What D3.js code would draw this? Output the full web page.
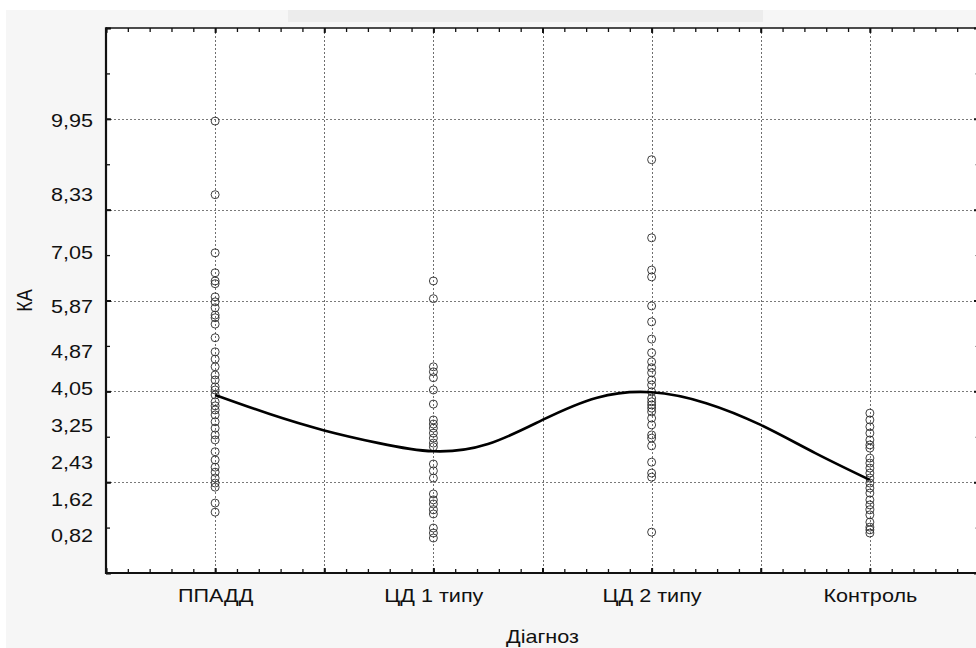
<!DOCTYPE html>
<html>
<head>
<meta charset="utf-8">
<script src="https://cdn.jsdelivr.net/npm/d3@7"></script>
<style>
  body { margin: 0; background: #fff; }
  text { font-family: "Liberation Sans", Arial, sans-serif; fill: #111; }
</style>
</head>
<body>
<script>
var w = 976;
var h = 648;
var plotLeft = 106, plotTop = 28, plotRight = 979, plotBottom = 573;
var stretch = 1.2; // the original picture is widened a bit

var categories = ["ППАДД", "ЦД 1 типу", "ЦД 2 типу", "Контроль"];

var ppadd = [9.95, 8.33, 7.05, 6.61, 6.43, 6.37, 6.08, 5.97, 5.84, 5.68, 5.62, 5.48, 5.18, 4.87, 4.71,
    4.54, 4.36, 4.25, 4.10, 4.03, 3.92, 3.77, 3.68, 3.59, 3.48, 3.33, 3.19, 3.04, 2.93, 2.67, 2.49,
    2.33, 2.22, 2.09, 1.98, 1.89, 1.54, 1.34];
var cd1 = [6.43, 6.04, 4.54, 4.43, 4.30, 4.03, 3.72, 3.37, 3.28, 3.19, 3.08, 2.97, 2.86, 2.78, 2.40,
    2.25, 2.09, 1.74, 1.61, 1.52, 1.39, 1.30, 0.99, 0.88, 0.77];
var cd2 = [9.10, 7.38, 6.67, 6.52, 5.88, 5.53, 5.15, 4.85, 4.65, 4.52, 4.41, 4.25, 4.14, 3.99, 3.85,
    3.77, 3.70, 3.63, 3.55, 3.41, 3.26, 3.04, 2.97, 2.80, 2.44, 2.20, 2.11, 0.90];
var control = [3.52, 3.37, 3.22, 3.08, 2.93, 2.82, 2.75, 2.53, 2.42, 2.31, 2.20, 2.09, 1.98, 1.87,
    1.76, 1.61, 1.50, 1.39, 1.28, 1.12, 1.01, 0.95, 0.88];

// smooth fit line
var fitX = [1, 1.25, 1.5, 1.75, 2, 2.25, 2.5, 2.75, 3, 3.25, 3.5, 3.75, 4];
var fitY = [3.92, 3.50, 3.14, 2.86, 2.68, 2.84, 3.37, 3.86, 3.98, 3.74, 3.26, 2.64, 2.05];

var yLabels = [9.95, 8.33, 7.05, 5.87, 4.87, 4.05, 3.25, 2.43, 1.62, 0.82];

var groups = [ppadd, cd1, cd2, control];
var points = [];
groups.forEach(function (g, i) {
    g.forEach(function (v) { points.push({ x: i + 1, y: v }); });
});

var svg = d3.select("body")
    .append("svg")
    .attr("width", w)
    .attr("height", h);

svg.append("rect").attr("width", w).attr("height", h).attr("fill", "#fff");
svg.append("rect").attr("x", 6).attr("y", 10).attr("width", w - 6).attr("height", h - 10).attr("fill", "#f6f6f6");
svg.append("rect").attr("x", 288).attr("y", 10).attr("width", 475).attr("height", 12).attr("fill", "#ececec");
svg.append("rect").attr("x", plotLeft).attr("y", plotTop)
    .attr("width", plotRight - plotLeft).attr("height", plotBottom - plotTop).attr("fill", "#fff");

var xScale = d3.scaleLinear().domain([0.5, 4.5]).range([plotLeft, plotRight]);
var yScale = d3.scaleLinear().domain([0, 12]).range([plotBottom, plotTop]);

var minorX = d3.range(5, 46).map(function (d) { return d / 10; });
var majorX = d3.range(1, 10).map(function (d) { return d / 2; });
var minorY = d3.range(0, 13);
var majorY = d3.range(0, 13, 2);

// grid
svg.append("g")
    .selectAll("line")
    .data(d3.range(2, 9).map(function (d) { return d / 2; }))
    .enter()
    .append("line")
    .attr("x1", function (d) { return Math.round(xScale(d)) + 0.5; })
    .attr("x2", function (d) { return Math.round(xScale(d)) + 0.5; })
    .attr("y1", plotTop)
    .attr("y2", plotBottom)
    .attr("stroke", "#6e6e6e")
    .attr("stroke-dasharray", "2,2");

svg.append("g")
    .selectAll("line")
    .data([2, 4, 6, 8, 10])
    .enter()
    .append("line")
    .attr("x1", plotLeft)
    .attr("x2", plotRight)
    .attr("y1", function (d) { return Math.round(yScale(d)) + 0.5; })
    .attr("y2", function (d) { return Math.round(yScale(d)) + 0.5; })
    .attr("stroke", "#7a7a7a")
    .attr("stroke-dasharray", "2,2");

function tickAxis(axis, values, size, width) {
    var g = svg.append("g").call(axis.tickValues(values).tickSize(size).tickFormat(""));
    g.select(".domain").remove();
    g.selectAll("line").attr("stroke", "#111").attr("stroke-width", width);
    return g;
}

// inward ticks on all four sides
tickAxis(d3.axisBottom(xScale), minorX, -4, 1.3).attr("transform", "translate(0," + plotBottom + ")");
tickAxis(d3.axisBottom(xScale), majorX, -5, 2).attr("transform", "translate(0," + plotBottom + ")");
tickAxis(d3.axisTop(xScale), minorX, -4, 1.3).attr("transform", "translate(0," + plotTop + ")");
tickAxis(d3.axisTop(xScale), majorX, -5, 2).attr("transform", "translate(0," + plotTop + ")");
tickAxis(d3.axisLeft(yScale), minorY, -4, 1.3).attr("transform", "translate(" + plotLeft + ",0)");
tickAxis(d3.axisLeft(yScale), majorY, -5, 2).attr("transform", "translate(" + plotLeft + ",0)");
tickAxis(d3.axisRight(yScale), minorY, -4, 1).attr("transform", "translate(" + plotRight + ",0)")
    .selectAll("line").attr("stroke", "#999");
tickAxis(d3.axisRight(yScale), majorY, -5, 2).attr("transform", "translate(" + plotRight + ",0)");

// frame
svg.append("line").attr("x1", plotLeft).attr("x2", w).attr("y1", plotTop).attr("y2", plotTop)
    .attr("stroke", "#111").attr("stroke-width", 1.6);
svg.append("line").attr("x1", plotLeft).attr("x2", w).attr("y1", plotBottom).attr("y2", plotBottom)
    .attr("stroke", "#111").attr("stroke-width", 2.2);
svg.append("line").attr("x1", plotLeft).attr("x2", plotLeft).attr("y1", plotTop - 0.8).attr("y2", plotBottom + 1.1)
    .attr("stroke", "#111").attr("stroke-width", 2.2);

// y labels at their own values
var yLab = svg.append("g")
    .attr("transform", "translate(" + plotLeft + ",0)")
    .call(d3.axisLeft(yScale)
        .tickValues(yLabels)
        .tickSize(0)
        .tickFormat(function (d) { return d.toFixed(2).replace(".", ","); }));
yLab.select(".domain").remove();
yLab.selectAll("text")
    .attr("x", -13 / stretch)
    .attr("transform", "scale(" + stretch + ",1)")
    .style("font-size", "18px")
    .style("font-family", "'Liberation Sans', Arial, sans-serif")
    .attr("fill", "#111");

// category labels
var xLab = svg.append("g")
    .attr("transform", "translate(0," + plotBottom + ")")
    .call(d3.axisBottom(xScale)
        .tickValues([1, 2, 3, 4])
        .tickSize(0)
        .tickFormat(function (d) { return categories[d - 1]; }));
xLab.select(".domain").remove();
xLab.selectAll("text")
    .attr("y", 29)
    .attr("dy", 0)
    .attr("transform", "scale(" + stretch + ",1)")
    .style("font-size", "18px")
    .style("font-family", "'Liberation Sans', Arial, sans-serif")
    .attr("fill", "#111");

svg.append("text")
    .attr("transform", "translate(" + ((plotLeft + plotRight) / 2) + ",643) scale(" + stretch + ",1)")
    .attr("text-anchor", "middle")
    .style("font-size", "18px")
    .text("Діагноз");

svg.append("text")
    .attr("transform", "translate(32," + ((plotTop + plotBottom) / 2) + ") scale(" + stretch + ",1) rotate(-90)")
    .attr("text-anchor", "middle")
    .style("font-size", "18px")
    .text("КА");

// points
svg.append("g")
    .selectAll("circle")
    .data(points)
    .enter()
    .append("circle")
    .attr("cx", function (d) { return xScale(d.x); })
    .attr("cy", function (d) { return yScale(d.y); })
    .attr("r", 4)
    .attr("fill", "none")
    .attr("stroke", "#2a2a2a")
    .attr("stroke-width", 0.9);

// fit line
var line = d3.line()
    .x(function (d) { return xScale(d[0]); })
    .y(function (d) { return yScale(d[1]); })
    .curve(d3.curveNatural);

svg.append("path")
    .datum(d3.zip(fitX, fitY))
    .attr("d", line)
    .attr("fill", "none")
    .attr("stroke", "#000")
    .attr("stroke-width", 2.6);
</script>
</body>
</html>
